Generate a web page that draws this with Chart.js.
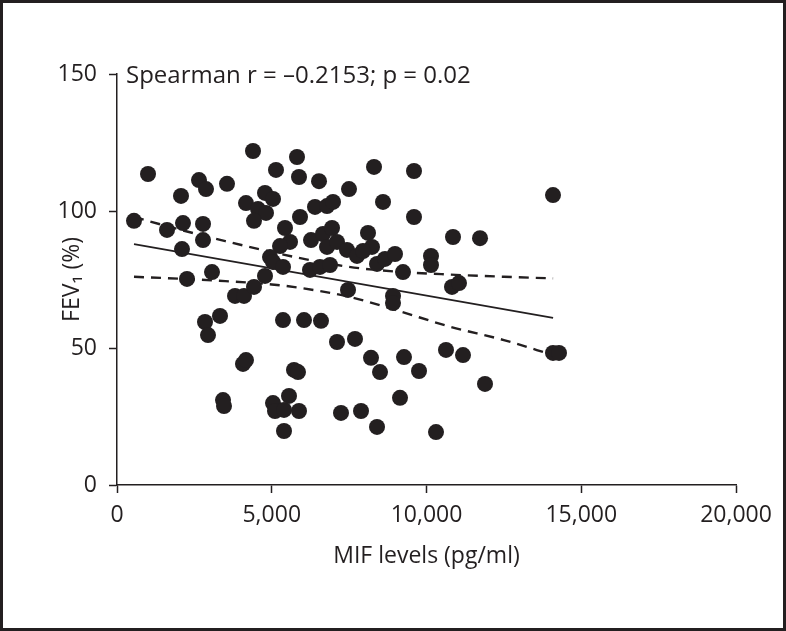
<!DOCTYPE html>
<html>
<head>
<meta charset="utf-8">
<script src="https://cdn.jsdelivr.net/npm/chart.js@4"></script>
<style>
  html, body { margin: 0; padding: 0; background: #fff; }
</style>
</head>
<body>
<canvas id="myChart" width="786" height="631"></canvas>
<script>
// MIF levels (pg/ml) vs FEV1 (%)
const mifLevels = [
  549, 1002, 1616, 2068, 2132, 2100, 2262, 2649, 2876, 2779,
  2779, 3069, 3554, 2843, 3328, 2940, 3425, 3457, 3813, 4103,
  4426, 4782, 4071, 4168, 4168, 4394, 4782, 5040, 4556, 4814,
  4426, 5137, 5816, 5880, 5913, 5428, 5590, 5267, 4943, 5040,
  5363, 5363, 6042, 6591, 5719, 5848, 5040, 5105, 5396, 5557,
  5880, 5396, 6268, 6656, 6947, 6785, 7108, 6236, 6559, 6882,
  6397, 6785, 6979, 6527, 7496, 8304, 9596, 8595, 9596, 8110,
  8239, 7431, 7754, 7948, 8401, 8659, 8982, 10145, 10145, 9241,
  7464, 8918, 8918, 10824, 11050, 10856, 11729, 14087, 7108, 7690,
  8207, 8498, 9273, 9758, 10630, 11179, 11890, 9144, 7237, 7884,
  8401, 10307, 14087, 14281
];
const fev1 = [
  96.4, 113.5, 93.1, 105.5, 95.6, 86.1, 75.2, 111.3, 108.0, 95.3,
  89.4, 77.7, 109.9, 59.5, 61.7, 54.7, 31.0, 28.8, 69.0, 69.0,
  72.3, 76.3, 44.2, 45.6, 102.9, 121.9, 106.6, 104.4, 100.7, 99.3,
  96.4, 115.0, 119.7, 112.4, 97.8, 93.8, 88.7, 87.2, 83.2, 81.4,
  79.6, 60.2, 60.2, 59.9, 42.0, 41.2, 29.9, 27.0, 27.4, 32.5,
  27.0, 19.7, 89.4, 91.6, 93.8, 86.9, 88.7, 78.5, 79.6, 80.3,
  101.5, 101.8, 103.3, 110.9, 108.0, 116.1, 114.6, 103.3, 97.8, 92.0,
  86.9, 85.8, 83.6, 85.4, 80.7, 82.5, 84.3, 83.6, 80.3, 77.7,
  71.2, 69.0, 66.4, 72.3, 73.7, 90.5, 90.1, 105.8, 52.2, 53.3,
  46.4, 41.2, 46.7, 41.6, 49.3, 47.4, 36.9, 31.8, 26.3, 27.0,
  21.2, 19.3, 48.2, 48.2
];

// regression line and its 95% band
const fitX = [549, 14090];
const fitY = [87.9, 61.0];
const bandX = [549, 2000, 3500, 5000, 6000, 7500, 9000, 10750, 12500, 14090];
const bandUpper = [97.8, 93.3, 89.0, 85.0, 82.6, 79.6, 77.9, 76.8, 76.0, 75.4];
const bandLower = [76.0, 75.3, 74.4, 73.2, 71.8, 68.7, 63.9, 57.8, 52.9, 47.4];

const xTicks = [0, 5000, 10000, 15000, 20000];
const yTicks = [0, 50, 100, 150];
const statsText = 'Spearman r = \u20130.2153; p = 0.02';

const ink = '#231f20';
const fontFamily = "'Open Sans', sans-serif";
const fontSize = 23;

const toPoints = (xs, ys) => xs.map((x, i) => ({ x, y: ys[i] }));

const frameAndText = {
  id: 'frameAndText',
  afterDraw(chart) {
    const { ctx, chartArea } = chart;
    ctx.save();
    ctx.fillStyle = ink;
    ctx.font = '24px ' + fontFamily;
    ctx.textBaseline = 'middle';
    ctx.textAlign = 'left';
    ctx.fillText(statsText, chartArea.left + 9, chartArea.top + 2);
    ctx.strokeStyle = ink;
    ctx.lineWidth = 3;
    ctx.strokeRect(1.5, 1.5, chart.width - 3, chart.height - 3);
    ctx.restore();
  },
};

const axisGrid = {
  drawOnChartArea: false,
  drawTicks: true,
  tickLength: 8,
  tickWidth: 1.5,
  tickColor: ink,
};

const ctx = document.getElementById('myChart').getContext('2d');
const myChart = new Chart(ctx, {
  type: 'scatter',
  data: {
    datasets: [
      {
        label: 'patients',
        data: toPoints(mifLevels, fev1),
        backgroundColor: ink,
        borderWidth: 0,
        pointRadius: 8,
      },
      {
        type: 'line',
        label: 'fit',
        data: toPoints(fitX, fitY),
        borderColor: ink,
        borderWidth: 1.6,
        pointRadius: 0,
        fill: false,
      },
      {
        type: 'line',
        label: 'upper',
        data: toPoints(bandX, bandUpper),
        borderColor: ink,
        borderWidth: 2.4,
        borderDash: [10, 7],
        pointRadius: 0,
        cubicInterpolationMode: 'monotone',
        fill: false,
      },
      {
        type: 'line',
        label: 'lower',
        data: toPoints(bandX, bandLower),
        borderColor: ink,
        borderWidth: 2.4,
        borderDash: [10, 7],
        pointRadius: 0,
        cubicInterpolationMode: 'monotone',
        fill: false,
      },
    ],
  },
  options: {
    responsive: false,
    animation: false,
    devicePixelRatio: 1,
    layout: { padding: { top: 74, right: 50, left: 0, bottom: 0 } },
    plugins: {
      legend: { display: false },
      tooltip: { enabled: false },
    },
    scales: {
      x: {
        type: 'linear',
        min: 0,
        max: 20000,
        afterBuildTicks: (scale) => {
          scale.ticks = xTicks.map((v) => ({ value: v }));
        },
        afterFit: (scale) => {
          scale.height = 146;
        },
        grid: axisGrid,
        border: { color: ink, width: 1.5 },
        ticks: {
          color: ink,
          padding: 9,
          font: { family: fontFamily, size: fontSize },
          callback: (v) => v.toLocaleString('en-US'),
        },
        title: {
          display: true,
          text: 'MIF levels (pg/ml)',
          color: ink,
          font: { family: fontFamily, size: fontSize },
          padding: { top: 0, bottom: 61 },
        },
      },
      y: {
        type: 'linear',
        min: 0,
        max: 150,
        afterBuildTicks: (scale) => {
          scale.ticks = yTicks.map((v) => ({ value: v }));
        },
        afterFit: (scale) => {
          scale.width = 117;
        },
        grid: axisGrid,
        border: { color: ink, width: 1.5 },
        ticks: {
          color: ink,
          padding: 12,
          font: { family: fontFamily, size: fontSize },
        },
        title: {
          display: true,
          text: 'FEV\u2081 (%)',
          color: ink,
          font: { family: fontFamily, size: fontSize },
          padding: { top: 59, bottom: 0 },
        },
      },
    },
  },
  plugins: [frameAndText],
});
</script>
</body>
</html>
